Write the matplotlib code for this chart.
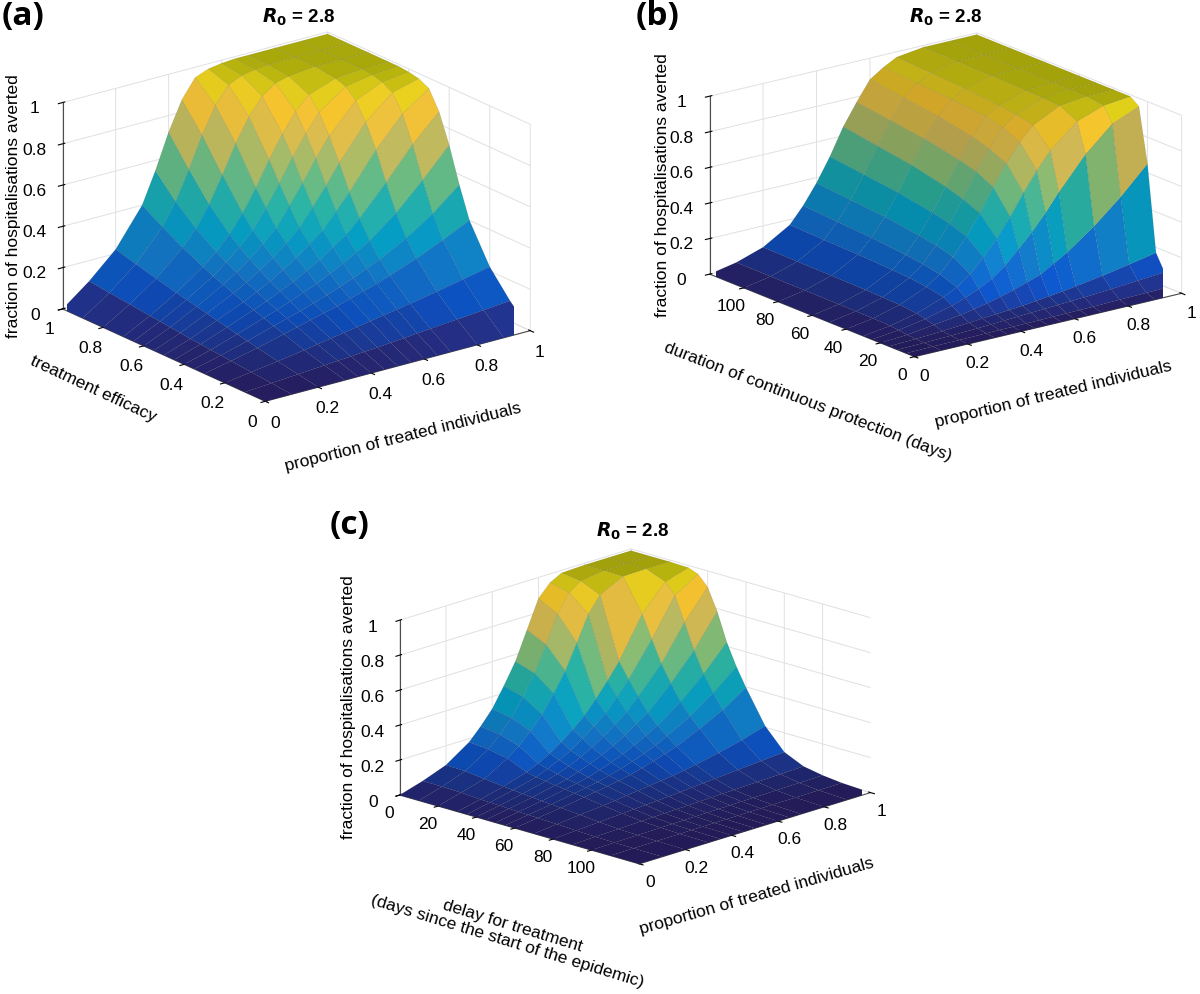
import numpy as np
import matplotlib
matplotlib.use("Agg")
import matplotlib.pyplot as plt
from matplotlib.colors import LinearSegmentedColormap
from matplotlib.ticker import FuncFormatter

plt.rcParams['font.family'] = ['Liberation Sans', 'DejaVu Sans']

# ---------------- data ----------------
# proportion of treated individuals (columns of every grid)
prop = [0.0, 0.1, 0.2, 0.3, 0.35, 0.4, 0.45, 0.5, 0.55, 0.6, 0.65, 0.7, 0.8, 0.9, 1.0]

# (a) treatment efficacy (rows) x proportion treated (cols)
efficacy = [0.0, 0.1, 0.2, 0.3, 0.35, 0.4, 0.45, 0.5, 0.55, 0.6, 0.65, 0.7, 0.8, 0.9, 1.0]
averted_a = [
    [0, 0, 0, 0, 0, 0, 0, 0, 0, 0, 0, 0, 0, 0, 0],
    [0, .009, .018, .027, .032, .036, .041, .045, .051, .056, .062, .067, .078, .089, .10],
    [0, .018, .036, .056, .067, .078, .089, .10, .111, .122, .133, .144, .168, .194, .22],
    [0, .027, .056, .089, .106, .122, .139, .155, .175, .194, .213, .236, .284, .34, .40],
    [0, .032, .067, .106, .125, .144, .165, .187, .21, .236, .264, .292, .36, .445, .55],
    [0, .036, .078, .122, .144, .168, .194, .22, .252, .284, .32, .36, .46, .584, .72],
    [0, .041, .089, .139, .165, .194, .224, .26, .296, .34, .385, .445, .584, .734, .86],
    [0, .045, .10, .155, .187, .22, .26, .30, .35, .40, .475, .55, .72, .86, .95],
    [0, .051, .111, .175, .21, .252, .296, .35, .408, .49, .576, .669, .832, .941, .975],
    [0, .056, .122, .194, .236, .284, .34, .40, .49, .584, .686, .776, .914, .97, .985],
    [0, .062, .133, .213, .264, .32, .385, .475, .576, .686, .783, .869, .96, .982, .99],
    [0, .067, .144, .236, .292, .36, .445, .55, .669, .776, .869, .932, .977, .988, .99],
    [0, .078, .168, .284, .36, .46, .584, .72, .832, .914, .96, .977, .99, .99, .99],
    [0, .089, .194, .34, .445, .584, .734, .86, .941, .97, .982, .988, .99, .99, .99],
    [0, .10, .22, .40, .55, .72, .86, .95, .975, .985, .99, .99, .99, .99, .99],
]

# (b) duration of continuous protection (rows, days) x proportion treated
duration = [0, 5, 10, 15, 20, 25, 30, 40, 50, 60, 80, 100, 120]
averted_b = [
    [0, 0, 0, 0, 0, 0, 0, 0, 0, 0, 0, 0, 0, 0, 0],
    [0, .002, .003, .005, .006, .006, .007, .008, .009, .01, .011, .012, .016, .019, .022],
    [0, .004, .008, .014, .018, .022, .026, .03, .034, .038, .042, .046, .056, .068, .08],
    [0, .006, .014, .026, .032, .038, .044, .05, .059, .068, .077, .088, .112, .14, .17],
    [0, .01, .03, .05, .065, .08, .10, .12, .145, .17, .215, .26, .37, .50, .65],
    [0, .017, .044, .083, .11, .142, .181, .238, .313, .391, .479, .578, .756, .892, .954],
    [0, .022, .056, .112, .15, .206, .282, .37, .474, .59, .698, .792, .92, .974, .99],
    [0, .025, .066, .131, .184, .264, .361, .474, .602, .717, .818, .896, .97, .988, .99],
    [0, .026, .069, .143, .203, .291, .395, .515, .651, .76, .862, .917, .975, .99, .99],
    [0, .027, .072, .149, .216, .307, .418, .545, .678, .789, .885, .93, .979, .99, .99],
    [0, .028, .075, .158, .235, .335, .453, .59, .717, .827, .904, .948, .984, .99, .99],
    [0, .029, .077, .163, .247, .352, .477, .62, .744, .854, .917, .959, .987, .99, .99],
    [0, .03, .08, .17, .26, .37, .50, .65, .77, .88, .93, .97, .99, .99, .99],
]

# (c) delay for treatment (rows, days since start of epidemic) x proportion treated
delay = [0, 10, 20, 30, 35, 40, 45, 50, 55, 60, 70, 80, 90, 100, 110, 125]
averted_c = [
    [0, .04, .09, .18, .25, .33, .44, .56, .72, .88, .95, .985, .99, .99, .99],
    [0, .039, .087, .171, .235, .311, .41, .524, .667, .822, .923, .97, .99, .99, .99],
    [0, .036, .074, .15, .201, .266, .341, .44, .548, .688, .832, .922, .987, .99, .99],
    [0, .029, .062, .103, .132, .168, .214, .266, .324, .40, .483, .573, .803, .947, .987],
    [0, .027, .057, .091, .118, .148, .182, .229, .28, .334, .408, .486, .675, .884, .966],
    [0, .025, .052, .083, .104, .128, .159, .194, .237, .285, .337, .405, .55, .746, .908],
    [0, .023, .047, .075, .09, .112, .137, .165, .199, .239, .283, .328, .454, .602, .784],
    [0, .021, .042, .068, .081, .096, .117, .14, .166, .197, .233, .27, .365, .483, .624],
    [0, .019, .038, .061, .073, .085, .101, .12, .141, .165, .192, .225, .298, .391, .50],
    [0, .017, .034, .054, .065, .076, .087, .102, .119, .138, .16, .181, .242, .309, .396],
    [0, .013, .026, .038, .045, .054, .062, .07, .078, .086, .096, .109, .136, .168, .208],
    [0, .008, .016, .024, .028, .032, .036, .04, .045, .05, .055, .06, .07, .08, .09],
    [0, .004, .008, .012, .014, .016, .018, .02, .022, .024, .026, .028, .032, .036, .04],
    [0, .002, .004, .006, .007, .008, .009, .01, .011, .012, .013, .014, .016, .018, .02],
    [0, .001, .002, .002, .003, .003, .004, .004, .004, .005, .005, .006, .006, .007, .008],
    [0, 0, 0, 0, 0, 0, 0, 0, 0, 0, 0, 0, 0, 0, 0],
]

z_ticks = [0, 0.2, 0.4, 0.6, 0.8, 1]
p_ticks = [0, 0.2, 0.4, 0.6, 0.8, 1]
day_ticks = [0, 20, 40, 60, 80, 100]

# ---------------- style ----------------
parula_hex = ['#352a87', '#0f5cdd', '#1481d6', '#06a4ca', '#2eb7a4',
              '#87bf77', '#d1bb59', '#fec832', '#f9fb0e']
cmap = LinearSegmentedColormap.from_list('parula', parula_hex)

fmt = FuncFormatter(lambda v, pos: '%g' % v)
TICK_FS = 12.5
LABEL_FS = 12.5


def style_axes(ax, elev, azim, zasp, zoom):
    ax.set_proj_type('ortho')
    ax.view_init(elev=elev, azim=azim)
    ax.set_box_aspect((1, 1, zasp), zoom=zoom)
    for axis in (ax.xaxis, ax.yaxis, ax.zaxis):
        axis.set_pane_color((1, 1, 1, 0))
        axis.pane.set_edgecolor((0.87, 0.87, 0.87))
        axis.line.set_color((0.3, 0.3, 0.3))
        axis.line.set_linewidth(0.8)
        axis._axinfo['grid'].update(color=(0.88, 0.88, 0.88), linewidth=0.7)
        axis._axinfo['tick']['color'] = (0.3, 0.3, 0.3)
        axis.set_major_formatter(fmt)
    ax.tick_params(axis='x', labelsize=TICK_FS, pad=0)
    ax.tick_params(axis='y', labelsize=TICK_FS, pad=0)
    ax.tick_params(axis='z', labelsize=TICK_FS, pad=2)
    ax.set_zlim(0, 1)
    ax.set_zticks(z_ticks)


def draw_surface(ax, xs, ys, zs, xlim, ylim, zasp, elev, azim):
    X, Y = np.meshgrid(np.array(xs, float), np.array(ys, float))
    Z = np.array(zs, float)
    # facet normals in box (axes-normalised) coordinates -> viewer-facing brightness,
    # imitating the darker look of the dense black mesh on surfaces seen at a grazing angle
    xn = (X - xlim[0]) / (xlim[1] - xlim[0])
    yn = (Y - ylim[0]) / (ylim[1] - ylim[0])
    P = np.stack([xn, yn, Z * zasp], axis=-1)
    d1 = P[1:, 1:] - P[:-1, :-1]
    d2 = P[:-1, 1:] - P[1:, :-1]
    n = np.cross(d1, d2)
    n /= np.linalg.norm(n, axis=-1, keepdims=True)
    n *= np.sign(n[..., 2:3])
    el, az = np.radians(elev), np.radians(azim)
    L = np.array([np.cos(el) * np.cos(az), np.cos(el) * np.sin(az), np.sin(el)])
    bright = np.clip(0.50 + 0.50 * (n @ L), 0.35, 1.0)
    zc = (Z[:-1, :-1] + Z[1:, 1:] + Z[:-1, 1:] + Z[1:, :-1]) / 4
    rgba = cmap(np.clip(zc, 0, 1))
    rgba[..., :3] *= bright[..., None]
    fc = np.ones(Z.shape + (4,))
    fc[:-1, :-1] = rgba
    ax.plot_surface(X, Y, Z, facecolors=fc, shade=False,
                    edgecolor=(0, 0, 0, 0.18), linewidth=0.25, antialiased=True)


fig = plt.figure(figsize=(12, 9.94), dpi=100)

# (a)
EL_A, AZ_A, ZA_A = 20.4, -127.4, 0.66
ax_a = fig.add_axes([-0.008, 0.551, 0.5, 0.45], projection='3d')
style_axes(ax_a, EL_A, AZ_A, ZA_A, 1.13)
draw_surface(ax_a, prop, efficacy, averted_a, (0, 1), (0, 1), ZA_A, EL_A, AZ_A)
ax_a.set_xlim(0, 1)
ax_a.set_ylim(0, 1)
ax_a.set_xticks(p_ticks)
ax_a.set_yticks(p_ticks)

# (b)
EL_B, AZ_B, ZA_B = 18.0, -127.5, 0.556
ax_b = fig.add_axes([0.553, 0.573, 0.46, 0.45], projection='3d')
style_axes(ax_b, EL_B, AZ_B, ZA_B, 1.11)
draw_surface(ax_b, prop, duration, averted_b, (0, 1), (0, 120), ZA_B, EL_B, AZ_B)
ax_b.set_xlim(0, 1)
ax_b.set_ylim(0, 120)
ax_b.set_xticks(p_ticks)
ax_b.set_yticks(day_ticks)

# (c)
EL_C, AZ_C, ZA_C = 17.3, -136.0, 0.55
ax_c = fig.add_axes([0.274, 0.048, 0.5, 0.47], projection='3d')
style_axes(ax_c, EL_C, AZ_C, ZA_C, 1.05)
draw_surface(ax_c, prop, delay, averted_c, (0, 1), (125, 0), ZA_C, EL_C, AZ_C)
ax_c.set_xlim(0, 1)
ax_c.set_ylim(125, 0)
ax_c.set_xticks(p_ticks)
ax_c.set_yticks(day_ticks)

# axis labels (placed like MATLAB does)
zlab = 'fraction of hospitalisations averted'
xlab = 'proportion of treated individuals'
lab_kw = dict(fontsize=LABEL_FS, ha='center', va='center', rotation_mode='anchor')
fig.text(0.011, 0.793, zlab, rotation=90, **lab_kw)
fig.text(0.336, 0.560, xlab, rotation=14, **lab_kw)
fig.text(0.078, 0.609, 'treatment efficacy', rotation=-25, **lab_kw)

fig.text(0.552, 0.814, zlab, rotation=90, **lab_kw)
fig.text(0.8775, 0.6036, xlab, rotation=13.5, **lab_kw)
fig.text(0.6733, 0.5956, 'duration of continuous protection (days)', rotation=-21, **lab_kw)

fig.text(0.290, 0.2887, zlab, rotation=90, **lab_kw)
fig.text(0.6308, 0.0986, xlab, rotation=16, **lab_kw)
fig.text(0.425, 0.0604, 'delay for treatment\n(days since the start of the epidemic)',
         rotation=-17, multialignment='center', linespacing=1.05, **lab_kw)

# titles and panel letters
title = r'$\mathbfit{R}_{\mathbf{0}}$ = 2.8'
fig.text(0.249, 0.993, title, ha='center', va='top', fontsize=13.5, fontweight='bold')
fig.text(0.788, 0.993, title, ha='center', va='top', fontsize=13.5, fontweight='bold')
fig.text(0.527, 0.476, title, ha='center', va='top', fontsize=13.5, fontweight='bold')
letter_kw = dict(ha='left', va='top', fontsize=24, fontweight='bold',
                 family=['Open Sans', 'DejaVu Sans'])
fig.text(0.001, 1.0, '(a)', **letter_kw)
fig.text(0.530, 1.0, '(b)', **letter_kw)
fig.text(0.275, 0.488, '(c)', **letter_kw)

fig.savefig('out.png', dpi=100)
